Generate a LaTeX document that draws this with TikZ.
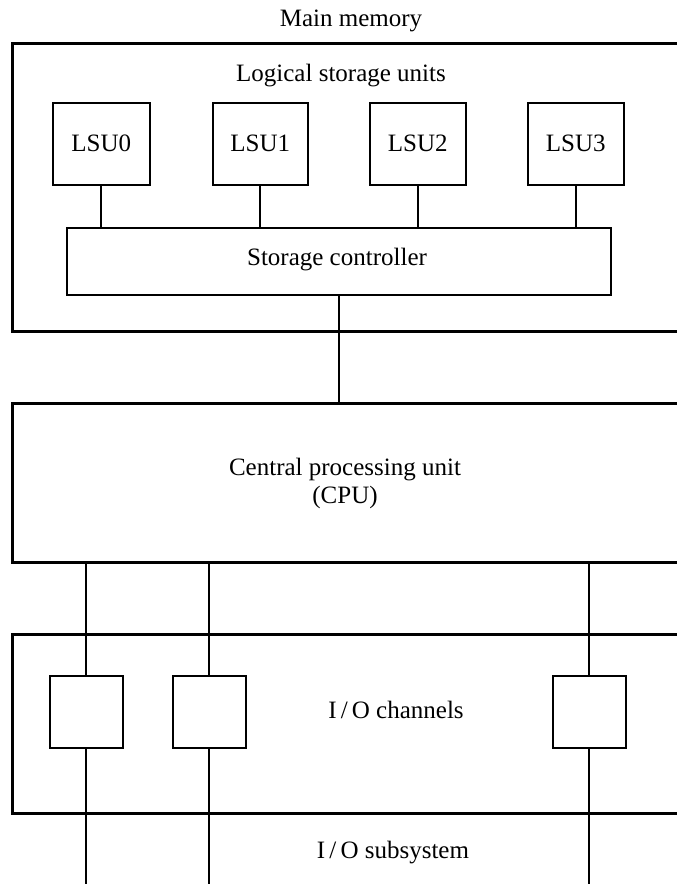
\documentclass[tikz,border=0pt]{standalone}
\usepackage{fontspec}
\setmainfont{Liberation Serif}
\begin{document}
\begin{tikzpicture}[x=1pt,y=-1pt,
  outer/.style={draw,line width=2.6pt,rectangle,inner sep=0pt,anchor=north west},
  inner/.style={draw,line width=1.6pt,rectangle,inner sep=0pt,anchor=north west},
  wire/.style={line width=1.8pt},
  lbl/.style={font=\fontsize{25}{28}\selectfont,inner sep=0pt,align=center}]
\useasboundingbox (0,0) rectangle (677,884);
\clip (0,0) rectangle (677,884);
% main memory
\node[outer,minimum width=690pt,minimum height=288pt] (mm) at (11,42) {};
\node[lbl] (mmlbl) at (351,21) {Main memory};
\node[lbl] (lsulbl) at (341,76) {Logical storage units};
\node[inner,minimum width=97pt,minimum height=82pt] (lsu0) at (52,102) {};
\node[inner,minimum width=95pt,minimum height=82pt] (lsu1) at (212,102) {};
\node[inner,minimum width=96pt,minimum height=82pt] (lsu2) at (369,102) {};
\node[inner,minimum width=96pt,minimum height=82pt] (lsu3) at (527,102) {};
\node[lbl] (t0) at (lsu0.center) {LSU0};
\node[lbl] (t1) at (lsu1.center) {LSU1};
\node[lbl] (t2) at (lsu2.center) {LSU2};
\node[lbl] (t3) at (lsu3.center) {LSU3};
\node[inner,minimum width=544pt,minimum height=67pt] (ctrl) at (66,227) {};
\node[lbl] (ctrllbl) at (337,260) {Storage controller};
\foreach \i in {0,1,2,3}{
  \draw[wire] (lsu\i.south) -- (lsu\i.south |- ctrl.north);
}
% CPU
\node[outer,minimum width=690pt,minimum height=159pt] (cpu) at (11,402) {};
\node[lbl] (cpulbl) at (345,483) {Central processing unit\\(CPU)};
\draw[wire] (ctrl.south) -- (ctrl.south |- cpu.north);
% I/O subsystem
\node[outer,minimum width=690pt,minimum height=179pt] (io) at (11,633) {};
\node[inner,minimum width=73pt,minimum height=72pt] (ch1) at (49,675) {};
\node[inner,minimum width=73pt,minimum height=72pt] (ch2) at (172,675) {};
\node[inner,minimum width=73pt,minimum height=72pt] (ch3) at (552,675) {};
\node[lbl] (chlbl) at (396,710) {I\,/\,O channels};
\node[lbl] (iolbl) at (393,853) {I\,/\,O subsystem};
\foreach \c in {ch1,ch2,ch3}{
  \coordinate (\c end) at (\c.south |- 0,884);
  \draw[wire] (\c.north) -- (\c.north |- cpu.south);
  \draw[wire] (\c.south) -- (\c end);
}
\end{tikzpicture}
\end{document}
